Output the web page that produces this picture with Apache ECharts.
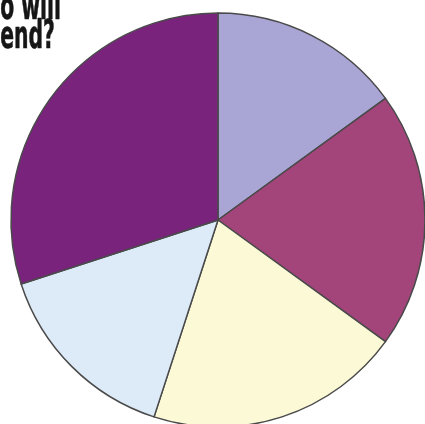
<!DOCTYPE html>
<html>
<head>
<meta charset="utf-8">
<script src="https://cdn.jsdelivr.net/npm/echarts@6/dist/echarts.min.js"></script>
<style>
  html, body { margin: 0; padding: 0; background: #fff; }
  #chart { width: 425px; height: 424px; }
</style>
</head>
<body>
<div id="chart"></div>
<script>
// slices, clockwise from 12 o'clock
const sliceNames = ['Slice 1', 'Slice 2', 'Slice 3', 'Slice 4', 'Slice 5'];
const sliceValues = [15, 20, 20, 15, 30];
const sliceColors = ['#a9a6d5', '#a3457b', '#fcf9d7', '#dcebf7', '#79237d'];
const titleLines = ['o will', 'end?'];

const chart = echarts.init(document.getElementById('chart'));

chart.setOption({
  backgroundColor: '#fff',
  animation: false,
  graphic: titleLines.map((line, i) => ({
    type: 'text',
    left: 0,
    top: i === 0 ? -11 : 18,
    scaleX: 0.58,
    style: {
      text: line,
      font: 'bold 39px "DejaVu Sans Condensed", "DejaVu Sans"',
      fill: '#161616',
      stroke: '#161616',
      lineWidth: 0.6
    },
    z: 10
  })),
  series: [{
    type: 'pie',
    center: [218, 220],
    radius: 207,
    startAngle: 90,
    clockwise: true,
    label: { show: false },
    labelLine: { show: false },
    emphasis: { disabled: true },
    itemStyle: {
      borderColor: '#4a4a4a',
      borderWidth: 1.5
    },
    data: sliceNames.map((n, i) => ({
      name: n,
      value: sliceValues[i],
      itemStyle: { color: sliceColors[i] }
    }))
  }]
});
</script>
</body>
</html>
